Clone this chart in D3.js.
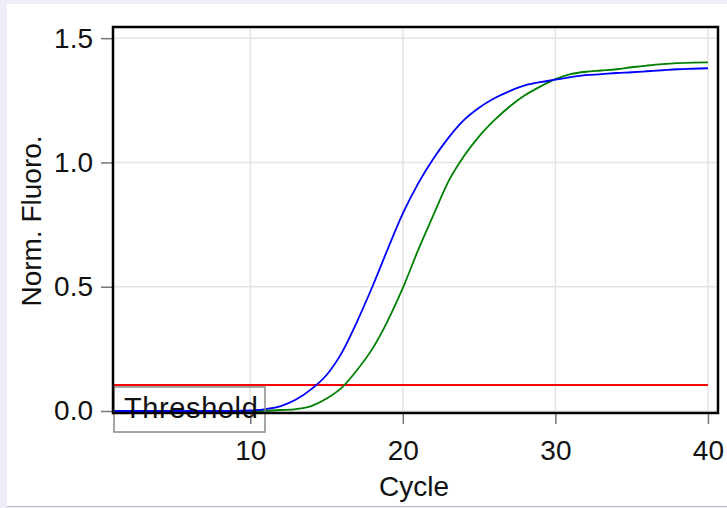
<!DOCTYPE html>
<html>
<head>
<meta charset="utf-8">
<script src="https://cdn.jsdelivr.net/npm/d3@7"></script>
<style>
  body { margin: 0; background: #eeeefa; }
  svg { display: block; }
  text { font-family: "Liberation Sans", Arial, sans-serif; fill: #111; }
</style>
</head>
<body>
<div id="chart"></div>
<script>
// data
var cycles = d3.range(1, 41);
var blueSeries = [0, 0, 0, 0, 0, 0, 0, 0, 0, 0.002,
  0.008, 0.02, 0.046, 0.088, 0.145, 0.235, 0.36, 0.50, 0.65, 0.795,
  0.915, 1.015, 1.10, 1.17, 1.22, 1.258, 1.287, 1.31, 1.323, 1.333,
  1.343, 1.351, 1.355, 1.36, 1.363, 1.367, 1.371, 1.375, 1.377, 1.379];
var greenSeries = [0, 0, 0, 0, 0, 0, 0, 0, 0, 0,
  0.001, 0.004, 0.008, 0.02, 0.05, 0.094, 0.165, 0.25, 0.362, 0.495,
  0.647, 0.788, 0.925, 1.025, 1.105, 1.17, 1.225, 1.27, 1.305, 1.335,
  1.355, 1.365, 1.37, 1.375, 1.383, 1.39, 1.396, 1.40, 1.402, 1.403];
var thresholdValue = 0.105;
var xTicks = [10, 20, 30, 40];
var yTicks = [0, 0.5, 1.0, 1.5];

var cfg = {
  width: 727, height: 508,
  left: 113, right: 718, top: 27, bottom: 413,
  font: 28
};

var svg = d3.select("#chart").append("svg")
  .attr("width", cfg.width)
  .attr("height", cfg.height);

// panel background
svg.append("rect")
  .attr("x", 7).attr("y", 4)
  .attr("width", cfg.width - 7).attr("height", 502)
  .attr("fill", "#fff");
svg.append("line")
  .attr("x1", 7).attr("x2", cfg.width)
  .attr("y1", 506.5).attr("y2", 506.5)
  .attr("stroke", "#bbb").attr("stroke-width", 1);

var x = d3.scaleLinear().domain([1, 40.66]).range([cfg.left, cfg.right]);
var y = d3.scaleLinear().domain([-0.008, 1.545]).range([cfg.bottom, cfg.top]);

// grid
svg.append("g").selectAll("line")
  .data(xTicks).enter().append("line")
  .attr("x1", function(d) { return x(d); }).attr("x2", function(d) { return x(d); })
  .attr("y1", cfg.top).attr("y2", cfg.bottom)
  .attr("stroke", "#e4e4e4").attr("stroke-width", 1.5);
svg.append("g").selectAll("line")
  .data(yTicks).enter().append("line")
  .attr("x1", cfg.left).attr("x2", cfg.right)
  .attr("y1", function(d) { return y(d); }).attr("y2", function(d) { return y(d); })
  .attr("stroke", "#e4e4e4").attr("stroke-width", 1.5);

// axes
var xAxis = svg.append("g")
  .attr("transform", "translate(0," + cfg.bottom + ")")
  .call(d3.axisBottom(x).tickValues(xTicks).tickFormat(d3.format("d")).tickSize(11).tickPadding(16));
var yAxis = svg.append("g")
  .attr("transform", "translate(" + cfg.left + ",0)")
  .call(d3.axisLeft(y).tickValues(yTicks).tickFormat(d3.format(".1f")).tickSize(12).tickPadding(8));
[xAxis, yAxis].forEach(function(a) {
  a.select(".domain").remove();
  a.selectAll(".tick line").attr("stroke", "#777").attr("stroke-width", 1.5);
  a.selectAll(".tick text")
    .attr("font-family", "Liberation Sans, Arial, sans-serif")
    .attr("font-size", cfg.font).attr("fill", "#111");
});

// threshold
svg.append("line")
  .attr("x1", cfg.left).attr("x2", x(40))
  .attr("y1", y(thresholdValue)).attr("y2", y(thresholdValue))
  .attr("stroke", "#ff0000").attr("stroke-width", 2);

// curves
var line = d3.line()
  .x(function(d) { return x(d[0]); })
  .y(function(d) { return y(d[1]); })
  .curve(d3.curveMonotoneX);

svg.append("path")
  .datum(cycles.map(function(c, i) { return [c, greenSeries[i]]; }))
  .attr("d", line).attr("fill", "none")
  .attr("stroke", "#008000").attr("stroke-width", 1.8);
svg.append("path")
  .datum(cycles.map(function(c, i) { return [c, blueSeries[i]]; }))
  .attr("d", line).attr("fill", "none")
  .attr("stroke", "#0000ff").attr("stroke-width", 1.8);

// threshold label box
svg.append("rect")
  .attr("x", 114).attr("y", 387)
  .attr("width", 151).attr("height", 45)
  .attr("fill", "none").attr("stroke", "#888").attr("stroke-width", 1.5);
svg.append("text")
  .attr("x", 124).attr("y", 418)
  .attr("font-size", 29)
  .attr("letter-spacing", 0.6)
  .text("Threshold");

// frame
svg.append("rect")
  .attr("x", cfg.left).attr("y", cfg.top)
  .attr("width", cfg.right - cfg.left).attr("height", cfg.bottom - cfg.top)
  .attr("fill", "none").attr("stroke", "#000").attr("stroke-width", 2.5);

// axis titles
svg.append("text")
  .attr("x", 414).attr("y", 496)
  .attr("text-anchor", "middle")
  .attr("font-size", cfg.font)
  .text("Cycle");
svg.append("text")
  .attr("transform", "translate(41,221) rotate(-90)")
  .attr("text-anchor", "middle")
  .attr("font-size", cfg.font)
  .text("Norm. Fluoro.");
</script>
</body>
</html>
